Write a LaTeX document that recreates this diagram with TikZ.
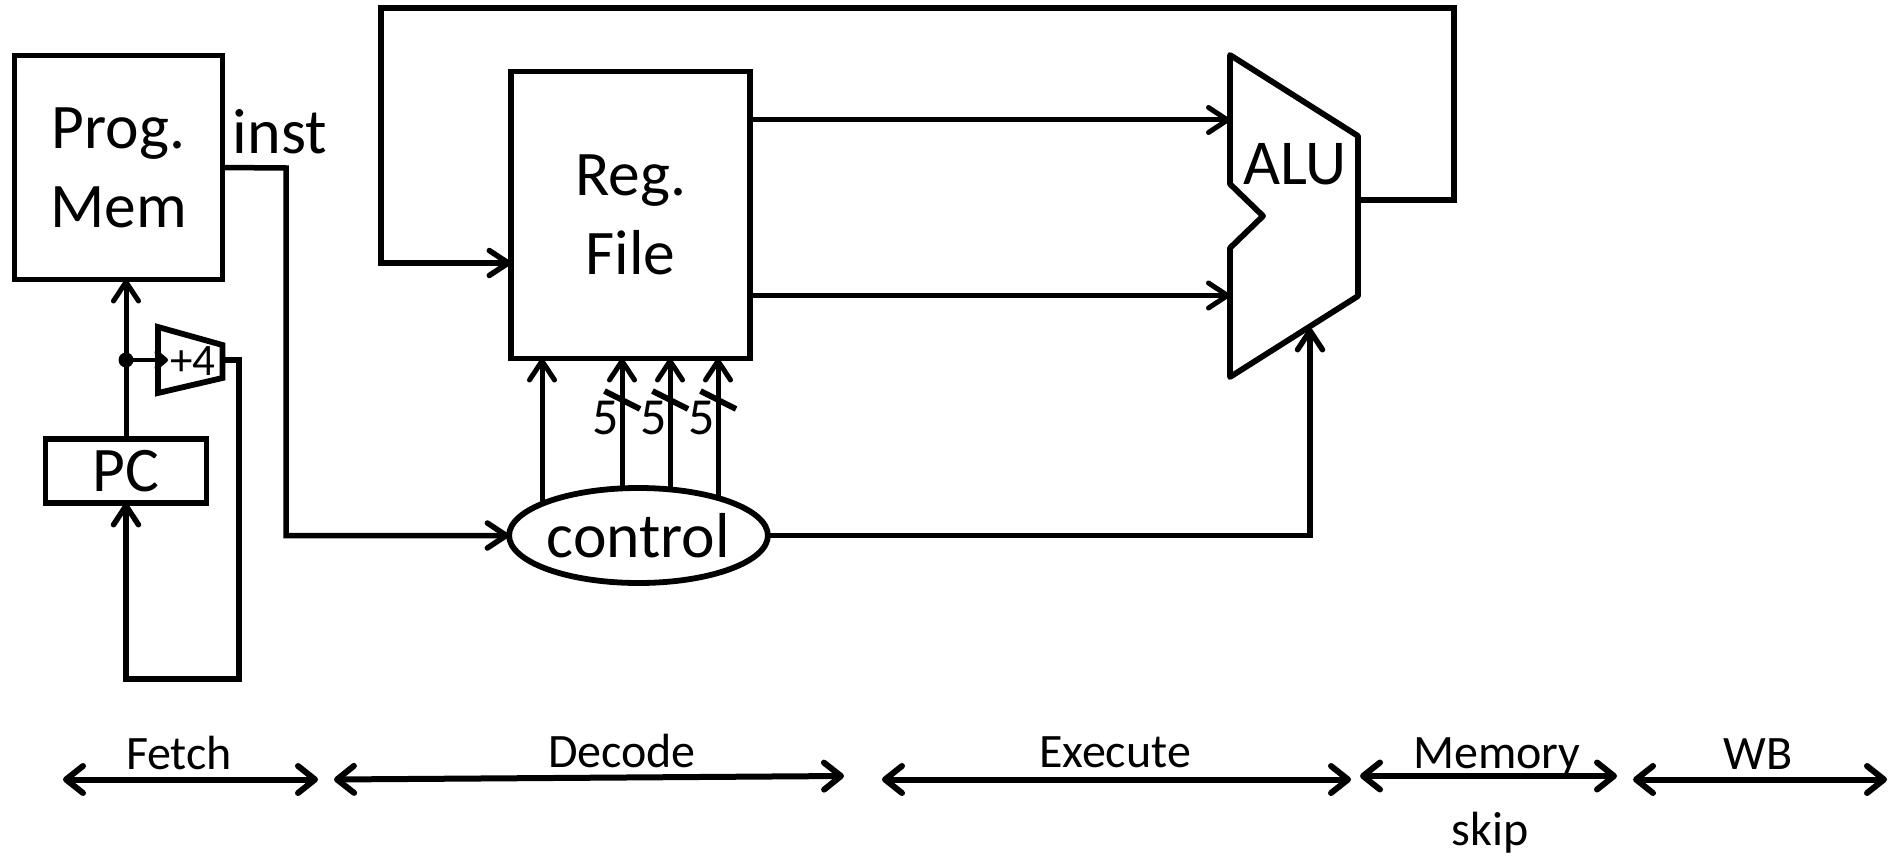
\documentclass[tikz,border=0pt]{standalone}
\usepackage{fontspec}
\setmainfont{Carlito}
\usetikzlibrary{arrows.meta,shapes.geometric}
\tikzset{
  heavy/.style={draw=black,line width=5.8pt,line join=miter},
  block/.style={draw=black,line width=5.8pt,fill=white,inner sep=0pt,outer sep=0pt,align=center,font=\fontsize{63.5}{79}\selectfont},
  wire/.style={draw=black,line width=5pt,-{Straight Barb[length=19pt,width=25pt,round]}},
  longwire/.style={draw=black,line width=5.5pt,line join=miter,-{Straight Barb[length=19pt,width=25pt,round]}},
  plainwire/.style={draw=black,line width=5.8pt},
  span/.style={draw=black,line width=6pt,{Straight Barb[length=17pt,width=27pt,round]}-{Straight Barb[length=17pt,width=27pt,round]}},
  stagelabel/.style={inner sep=0pt,font=\fontsize{48}{50}\selectfont},
  buslabel/.style={inner sep=0pt,font=\fontsize{52}{54}\selectfont},
  bigtext/.style={inner sep=0pt,font=\fontsize{64}{70}\selectfont},
}
\begin{document}
\begin{tikzpicture}[x=1pt,y=-1pt]
\useasboundingbox (0,0) rectangle (1898,856);
\fill[white] (0,0) rectangle (1898,856);

% blocks
\node[block,minimum width=208pt,minimum height=224pt] (mem) at (118.5,167.5) {Prog.\\Mem};
\node[block,minimum width=161pt,minimum height=64pt] (pc) at (126,471) {PC};
\node[block,minimum width=239pt,minimum height=287pt] (rf) at (630.5,215) {Reg.\\File};
\node[block,ellipse,minimum width=254pt,minimum height=95pt] (ctl) at (638.5,535.5) {control};
\node[bigtext] (inst) at (280,132) {inst};

% ALU
\coordinate (a1) at (1230,55);
\coordinate (a2) at (1358,136);
\coordinate (a3) at (1358,296);
\coordinate (a4) at (1230,377);
\coordinate (a5) at (1230,248);
\coordinate (a6) at (1263,216);
\coordinate (a7) at (1230,184);
\draw[heavy,line join=round] (a1)--(a2)--(a3)--(a4)--(a5)--(a6)--(a7)--cycle;
\node[bigtext] (alu) at (1295,164) {ALU};

% +4 adder
\coordinate (p1) at (158,327);
\coordinate (p2) at (222.5,345);
\coordinate (p3) at (222.5,378);
\coordinate (p4) at (158,393);
\draw[heavy] (p1)--(p2)--(p3)--(p4)--cycle;
\node[inner sep=0pt,font=\fontsize{45}{48}\selectfont] (inc) at (193,361) {+4};

% left side wires
\coordinate (dot) at (126,360);
\coordinate (c1) at (126,679);
\coordinate (c2) at (239,679);
\coordinate (c3) at (239,360);
\coordinate (incin) at (168,360);
\draw[wire] (pc.north) -- (pc.north|-mem.south);
\draw[longwire] (p2|-c3) -- (c3) -- (c2) -- (c1) -- (c1|-pc.south);
\fill[black] (dot) circle (7.5pt);
\draw[draw=black,line width=4.5pt,-{Straight Barb[length=9pt,width=15pt,round]}] (dot) -- (incin);

% inst wire
\coordinate (i1) at (286,168);
\coordinate (i2) at (286,535.5);
\draw[longwire] (mem.east) -- (i1) -- (i2) -- (ctl.west);

% register file to ALU
\coordinate (r1) at (rf.east|-0,120);
\coordinate (r2) at (rf.east|-0,295.5);
\draw[wire] (r1) -- (a1|-r1);
\draw[wire] (r2) -- (a1|-r2);

% feedback
\coordinate (f0) at (1358,200);
\coordinate (f1) at (1454,200);
\coordinate (f2) at (1454,8);
\coordinate (f3) at (381,8);
\coordinate (f4) at (381,263);
\draw[longwire] (f0) -- (f1) -- (f2) -- (f3) -- (f4) -- (rf.west|-f4);

% control to reg file
\coordinate (u0) at (542,504);
\coordinate (u1) at (622,487.5);
\coordinate (u2) at (670,488.5);
\coordinate (u3) at (718,497.5);
\draw[wire] (u0) -- (u0|-rf.south);
\draw[wire] (u1) -- (u1|-rf.south);
\draw[wire] (u2) -- (u2|-rf.south);
\draw[wire] (u3) -- (u3|-rf.south);

% control to ALU
\coordinate (v1) at (1310,535.5);
\coordinate (v2) at (1310,328);
\draw[longwire] (ctl.east) -- (v1) -- (v2);

% bus slashes
\coordinate (s1a) at (604.5,391); \coordinate (s1b) at (640,409);
\coordinate (s2a) at (652.5,391); \coordinate (s2b) at (688,409);
\coordinate (s3a) at (700.5,391); \coordinate (s3b) at (736,409);
\draw[plainwire] (s1a) -- (s1b);
\draw[plainwire] (s2a) -- (s2b);
\draw[plainwire] (s3a) -- (s3b);
\node[buslabel] (b1) at (606,418) {5};
\node[buslabel] (b2) at (654,418) {5};
\node[buslabel] (b3) at (702,418) {5};

% stages
\coordinate (e1) at (63,779.5);  \coordinate (e2) at (318,779.5);
\coordinate (e3) at (334,779.5); \coordinate (e4) at (844,776);
\coordinate (e5) at (882,779.5); \coordinate (e6) at (1351,779.5);
\coordinate (e7) at (1360,776);  \coordinate (e8) at (1617,776);
\coordinate (e9) at (1633,779.5);\coordinate (e10) at (1887,779.5);
\draw[span] (e1) -- (e2);
\draw[span] (e3) -- (e4);
\draw[span] (e5) -- (e6);
\draw[span] (e7) -- (e8);
\draw[span] (e9) -- (e10);
\node[stagelabel] (fetch) at (179,753) {Fetch};
\node[stagelabel] (decode) at (622,751) {Decode};
\node[stagelabel] (execute) at (1115,752) {Execute};
\node[stagelabel] (memory) at (1497,757) {Memory};
\node[stagelabel] (wb) at (1758,754) {WB};
\node[stagelabel] (skip) at (1490,833) {skip};
\end{tikzpicture}
\end{document}
